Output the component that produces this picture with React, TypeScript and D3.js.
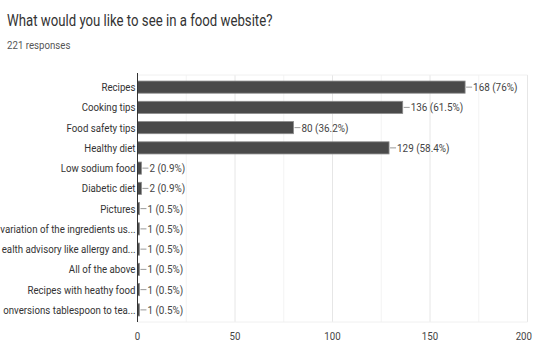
import React from "react";
import * as d3 from "d3";

const categories = [
  "Recipes",
  "Cooking tips",
  "Food safety tips",
  "Healthy diet",
  "Low sodium food",
  "Diabetic diet",
  "Pictures",
  "variation of the ingredients us...",
  "ealth advisory like allergy and...",
  "All of the above",
  "Recipes with heathy food",
  "onversions tablespoon to tea...",
];
const counts = [168, 136, 80, 129, 2, 2, 1, 1, 1, 1, 1, 1];
const percents = ["76%", "61.5%", "36.2%", "58.4%", "0.9%", "0.9%", "0.5%", "0.5%", "0.5%", "0.5%", "0.5%", "0.5%"];
const ticks = [0, 50, 100, 150, 200];
const minorTicks = [25, 75, 125, 175];

const W = 533;
const H = 344;
const left = 137.5;
const right = 527.5;
const top = 77;
const bottom = 320;
const FONT = "Roboto, Arial, sans-serif";

function T(props: { x: number; y: number; sx: number; size: number; fill: string; anchor?: string; children: React.ReactNode }) {
  return (
    <text
      transform={`translate(${props.x},${props.y}) scale(${props.sx},1)`}
      fontSize={props.size}
      fill={props.fill}
      textAnchor={props.anchor || "start"}
    >
      {props.children}
    </text>
  );
}

export default function App() {
  const x = d3.scaleLinear().domain([0, 200]).range([left, right]);
  const y = d3.scaleBand<string>().domain(categories).range([top, bottom]).paddingInner(0.4).paddingOuter(0.2);
  return (
    <svg width={W} height={H} style={{ position: "absolute", left: 0, top: 0, background: "#fff" }} fontFamily={FONT}>
      <T x={7} y={26} sx={0.8} size={16.5} fill="#333">What would you like to see in a food website?</T>
      <T x={7} y={49} sx={0.88} size={11} fill="#555">221 responses</T>
      {minorTicks.map((t) => (
        <line key={"m" + t} x1={x(t)} x2={x(t)} y1={top - 2} y2={bottom + 2} stroke="#f3f3f3" />
      ))}
      {ticks.map((t) => (
        <line key={"g" + t} x1={x(t)} x2={x(t)} y1={top - 2} y2={bottom + 2} stroke="#e6e6e6" />
      ))}
      <line x1={left} x2={right} y1={top - 2} y2={top - 2} stroke="#f0f0f0" />
      <line x1={left} x2={right} y1={bottom + 2} y2={bottom + 2} stroke="#f0f0f0" />
      {categories.map((c, i) => {
        const by = y(c)!;
        const bh = y.bandwidth();
        const cy = by + bh / 2;
        const xe = x(counts[i]);
        return (
          <g key={c}>
            <rect x={left} y={by} width={xe - left} height={bh} fill="#4a4a4a" stroke="#8a8a8a" strokeWidth={0.8} />
            <line x1={xe + 1} x2={xe + 7} y1={cy} y2={cy} stroke="#999" />
            <T x={xe + 8} y={cy + 4} sx={0.9} size={11} fill="#444">{`${counts[i]} (${percents[i]})`}</T>
            <T x={left - 2} y={cy + 4} sx={0.88} size={11} fill="#333" anchor="end">{c}</T>
          </g>
        );
      })}
      <line x1={left} x2={left} y1={top - 4} y2={bottom + 2} stroke="#333" strokeWidth={1} />
      {ticks.map((t, i) => (
        <T
          key={"t" + t}
          x={i === ticks.length - 1 ? W - 1 : x(t)}
          y={340}
          sx={0.88}
          size={11}
          fill="#444"
          anchor={i === ticks.length - 1 ? "end" : "middle"}
        >
          {t}
        </T>
      ))}
    </svg>
  );
}
